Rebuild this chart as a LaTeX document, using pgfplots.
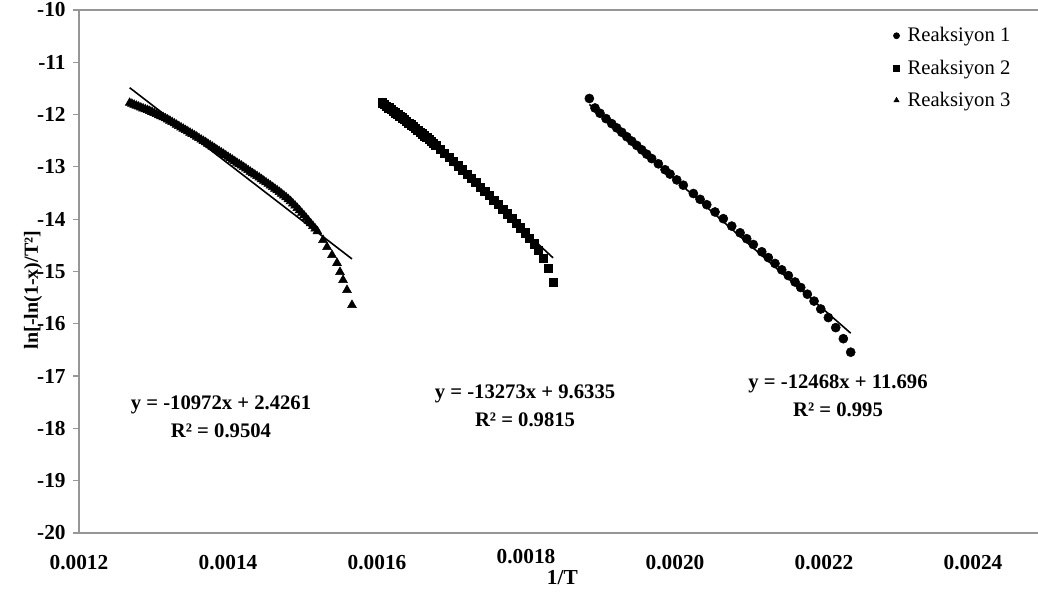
\documentclass[border=0pt]{standalone}
\usepackage{fontspec}
\setmainfont{Liberation Serif}
\usepackage{pgfplots}
\pgfplotsset{compat=1.18}
\definecolor{axgray}{RGB}{150,150,150}
\begin{document}
\begin{tikzpicture}
\useasboundingbox (-59.25pt,-44.25pt) rectangle (719.25pt,399.75pt);
\begin{axis}[
  at={(0,0)}, anchor=south west,
  width=719.25pt, height=392.25pt, scale only axis,
  xmin=0.0012, xmax=0.0024872, ymin=-20, ymax=-10,
  axis x line*=bottom, axis y line*=left,
  axis line style={axgray, line width=0.9pt, -},
  xtick={0.0012,0.0014,0.0016,0.0018,0.0020,0.0022,0.0024},
  xticklabels={0.0012,0.0014,0.0016,\raisebox{5pt}[\height]{0.0018},0.0020,0.0022,0.0024},
  ytick={-20,-19,-18,-17,-16,-15,-14,-13,-12,-11,-10},
  yticklabels={-20,-19,-18,-17,-16,-15,-14,-13,-12,-11,-10},
  x tick style={draw=none},
  y tick style={axgray, line width=0.9pt},
  tick align=outside, major tick length=4.5pt,
  xticklabel style={font=\fontsize{16}{19}\selectfont\bfseries, yshift=-9pt},
  yticklabel style={font=\fontsize{16}{19}\selectfont\bfseries, xshift=-2pt},
  extra y ticks={-10}, extra y tick labels={},
  extra y tick style={ymajorgrids=true, major grid style={axgray, line width=0.9pt}},
  xlabel={1/T},
  xlabel style={font=\fontsize{16}{19}\selectfont\bfseries, at={(axis description cs:0.504,0)}, anchor=center, yshift=-33.75pt},
  ylabel={ln[-ln(1-x)/T²]},
  ylabel style={font=\fontsize{15}{18}\selectfont\bfseries, at={(axis description cs:0,0.4646)}, anchor=center, yshift=34.5pt},
  legend style={draw=none, fill=none, at={(axis description cs:0.849,0.972)}, anchor=north west,
    font=\fontsize{15.5}{18}\selectfont, row sep=8pt, inner sep=0pt},
  legend cell align=left,
  legend image code/.code={\draw[mark repeat=2,mark phase=2,#1,mark size=2.3pt] plot coordinates {(0cm,0cm) (0.15cm,0cm) (0.3cm,0cm)};},
  clip=false,
]
% Reaksiyon 1
\addplot[only marks, mark=*, mark size=3.4pt, black, fill=black] coordinates {
(0.0018850,-11.692) (0.0018926,-11.874) (0.0018993,-11.975) (0.0019074,-12.077)
(0.0019150,-12.172) (0.0019217,-12.254) (0.0019285,-12.338) (0.0019352,-12.423)
(0.0019419,-12.507) (0.0019486,-12.589) (0.0019553,-12.673) (0.0019620,-12.757)
(0.0019687,-12.841) (0.0019776,-12.941) (0.0019866,-13.054) (0.0019933,-13.138)
(0.0020023,-13.249) (0.0020111,-13.350) (0.0020246,-13.509) (0.0020336,-13.620)
(0.0020426,-13.723) (0.0020537,-13.862) (0.0020648,-13.990) (0.0020761,-14.132)
(0.0020873,-14.260) (0.0020962,-14.373) (0.0021051,-14.484) (0.0021164,-14.623)
(0.0021252,-14.734) (0.0021342,-14.847) (0.0021432,-14.968) (0.0021521,-15.078)
(0.0021611,-15.201) (0.0021687,-15.306) (0.0021776,-15.434) (0.0021866,-15.566)
(0.0021956,-15.717) (0.0022058,-15.881) (0.0022157,-16.073) (0.0022259,-16.285)
(0.0022358,-16.543)
};
\addlegendentry{\hspace{4pt}Reaksiyon 1}
% Reaksiyon 2
\addplot[only marks, mark=square*, mark size=3.1pt, black, fill=black] coordinates {
(0.0016067,-11.772) (0.0016097,-11.805) (0.0016127,-11.837) (0.0016157,-11.869)
(0.0016187,-11.901) (0.0016217,-11.934) (0.0016247,-11.966) (0.0016277,-11.999)
(0.0016307,-12.031) (0.0016337,-12.061) (0.0016367,-12.090) (0.0016397,-12.125)
(0.0016427,-12.160) (0.0016457,-12.195) (0.0016487,-12.229) (0.0016517,-12.264)
(0.0016547,-12.299) (0.0016577,-12.334) (0.0016607,-12.369) (0.0016637,-12.404)
(0.0016667,-12.438) (0.0016697,-12.476) (0.0016727,-12.513) (0.0016757,-12.551)
(0.0016787,-12.588) (0.0016847,-12.662)
(0.0016907,-12.737) (0.0016967,-12.817)
(0.0017027,-12.896) (0.0017087,-12.976) (0.0017147,-13.056) (0.0017207,-13.135)
(0.0017267,-13.220) (0.0017327,-13.299) (0.0017387,-13.384) (0.0017447,-13.464)
(0.0017507,-13.548) (0.0017567,-13.633) (0.0017627,-13.718) (0.0017687,-13.807)
(0.0017747,-13.897) (0.0017807,-13.987) (0.0017867,-14.076) (0.0017927,-14.166)
(0.0017987,-14.261) (0.0018047,-14.360) (0.0018107,-14.470) (0.0018167,-14.589)
(0.0018228,-14.742) (0.0018295,-14.933) (0.0018362,-15.201)
};
\addlegendentry{\hspace{4pt}Reaksiyon 2}
% Reaksiyon 3
\addplot[only marks, mark=triangle*, mark size=3.8pt, black, fill=black] coordinates {
(0.001268,-11.776) (0.001271,-11.794) (0.001274,-11.812) (0.001277,-11.830)
(0.001280,-11.848) (0.001283,-11.866) (0.001286,-11.883) (0.001289,-11.899)
(0.001292,-11.914) (0.001295,-11.932) (0.001298,-11.950) (0.001301,-11.970)
(0.001304,-11.991) (0.001307,-12.012) (0.001310,-12.032) (0.001313,-12.052)
(0.001316,-12.073) (0.001319,-12.095) (0.001322,-12.118) (0.001325,-12.144)
(0.001328,-12.169) (0.001331,-12.195) (0.001334,-12.220) (0.001337,-12.246)
(0.001340,-12.271) (0.001343,-12.297) (0.001346,-12.322) (0.001349,-12.347)
(0.001352,-12.372) (0.001355,-12.398) (0.001358,-12.423) (0.001361,-12.451)
(0.001364,-12.479) (0.001367,-12.505) (0.001370,-12.530) (0.001373,-12.558)
(0.001376,-12.586) (0.001379,-12.614) (0.001382,-12.642) (0.001385,-12.670)
(0.001388,-12.697) (0.001391,-12.725) (0.001394,-12.753) (0.001397,-12.781)
(0.001400,-12.809) (0.001403,-12.837) (0.001406,-12.865) (0.001409,-12.893)
(0.001412,-12.921) (0.001415,-12.949) (0.001418,-12.976) (0.001421,-13.004)
(0.001424,-13.032) (0.001427,-13.063) (0.001430,-13.093) (0.001433,-13.121)
(0.001436,-13.149) (0.001439,-13.177) (0.001442,-13.205) (0.001445,-13.236)
(0.001448,-13.266) (0.001451,-13.296) (0.001454,-13.326) (0.001457,-13.357)
(0.001460,-13.387) (0.001463,-13.418) (0.001466,-13.448) (0.001469,-13.481)
(0.001472,-13.514) (0.001475,-13.547) (0.001478,-13.580) (0.001481,-13.618)
(0.001484,-13.656) (0.001487,-13.699) (0.001490,-13.741) (0.001493,-13.787)
(0.001496,-13.832) (0.001499,-13.880) (0.001502,-13.928) (0.001505,-13.979)
(0.001508,-14.029) (0.001511,-14.080) (0.001514,-14.130) (0.001517,-14.180)
(0.001520,-14.230)
(0.0015275,-14.398) (0.0015329,-14.532) (0.0015396,-14.685) (0.0015463,-14.837)
(0.0015503,-15.010) (0.0015544,-15.163) (0.0015597,-15.354) (0.0015664,-15.641)
};
\addlegendentry{\hspace{4pt}Reaksiyon 3}
% trendlines
\addplot[black, line width=1.2pt, forget plot] coordinates {(0.0018850,-11.806) (0.0022358,-16.180)};
\addplot[black, line width=1.2pt, forget plot] coordinates {(0.0016067,-11.692) (0.0018362,-14.738)};
\addplot[black, line width=1.2pt, forget plot] coordinates {(0.001268,-11.486) (0.0015664,-14.760)};
% equations
\node[font=\fontsize{15.5}{18}\selectfont\bfseries, align=center, inner sep=0pt] at (axis cs:0.0013906,-17.772) {y = -10972x + 2.4261\\[3pt]R² = 0.9504};
\node[font=\fontsize{15.5}{18}\selectfont\bfseries, align=center, inner sep=0pt] at (axis cs:0.0017987,-17.562) {y = -13273x + 9.6335\\[3pt]R² = 0.9815};
\node[font=\fontsize{15.5}{18}\selectfont\bfseries, align=center, inner sep=0pt] at (axis cs:0.0022188,-17.380) {y = -12468x + 11.696\\[3pt]R² = 0.995};
\end{axis}
\end{tikzpicture}
\end{document}
